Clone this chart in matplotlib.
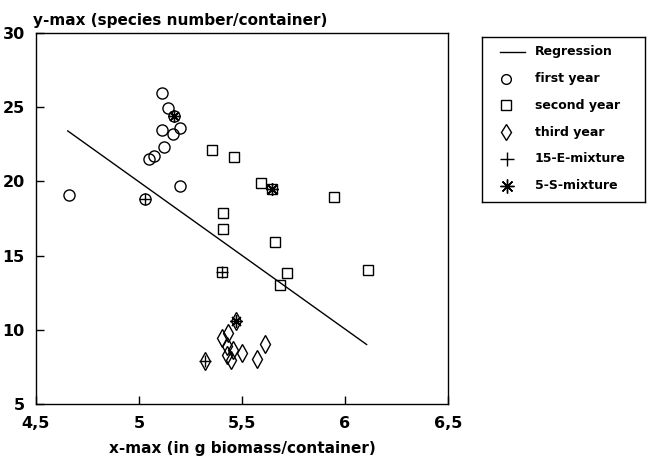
import matplotlib
matplotlib.use("Agg")
import matplotlib.pyplot as plt
import numpy as np

plt.rcParams['font.family'] = ['DejaVu Sans']

# ---- data ----
first_x = [5.110, 5.139, 5.171, 5.199, 5.113, 5.164, 5.123, 5.074, 5.050, 5.199, 4.660, 5.029]
first_y = [25.94, 24.93, 24.41, 23.63, 23.43, 23.20, 22.31, 21.68, 21.52, 19.66, 19.05, 18.83]

second_x = [5.353, 5.461, 5.591, 5.644, 5.948, 5.409, 5.409, 5.660, 5.404, 5.720, 6.113, 5.684]
second_y = [22.13, 21.64, 19.89, 19.48, 18.92, 17.87, 16.79, 15.89, 13.87, 13.83, 14.00, 12.99]

third_x = [5.434, 5.401, 5.426, 5.458, 5.499, 5.426, 5.445, 5.612, 5.571, 5.320, 5.471]
third_y = [9.79, 9.45, 8.89, 8.62, 8.45, 8.33, 7.95, 9.07, 8.00, 7.88, 10.57]

mix15_x = [5.029, 5.404, 5.320]
mix15_y = [18.83, 13.87, 7.88]

mix5_x = [5.171, 5.644, 5.471]
mix5_y = [24.41, 19.48, 10.57]

reg_intercept = 69.57
reg_slope = -9.92
reg_xrange = [4.654, 6.105]

x_ticks = [4.5, 5.0, 5.5, 6.0, 6.5]
x_ticklabels = ["4,5", "5", "5,5", "6", "6,5"]
y_ticks = [5, 10, 15, 20, 25, 30]
y_ticklabels = ["5", "10", "15", "20", "25", "30"]

legend_labels = ["Regression", "first year", "second year", "third year",
                 "15-E-mixture", "5-S-mixture"]

# ---- figure ----
W, H = 650, 458
fig = plt.figure(figsize=(W / 100, H / 100), dpi=100)
L, R, T, B = 36, 448, 33, 404
ax = fig.add_axes([L / W, 1 - B / H, (R - L) / W, (B - T) / H])

rx = np.array(reg_xrange)
ax.plot(rx, reg_intercept + reg_slope * rx, color='black', lw=1.0)

mk = dict(linestyle='none', markerfacecolor='none', markeredgecolor='black', markeredgewidth=1.0)
ax.plot(first_x, first_y, marker='o', markersize=8, **mk)
ax.plot(second_x, second_y, marker='s', markersize=7.5, **mk)
ax.plot(third_x, third_y, marker='d', markersize=9, **mk)
ax.plot(mix15_x, mix15_y, marker='+', markersize=9, linestyle='none', color='black', markeredgewidth=1.0)
ax.plot(mix5_x, mix5_y, marker=(8, 2, 0), markersize=9, linestyle='none', color='black', markeredgewidth=1.0)

ax.set_xlim(4.5, 6.5)
ax.set_ylim(5, 30)
ax.set_xticks(x_ticks)
ax.set_xticklabels(x_ticklabels)
ax.set_yticks(y_ticks)
ax.set_yticklabels(y_ticklabels)
ax.tick_params(direction='in', length=6, width=1, top=False, right=False,
               labelsize=11.5)
ax.tick_params(axis='x', pad=9)
ax.tick_params(axis='y', pad=8)
for lab in ax.get_xticklabels() + ax.get_yticklabels():
    lab.set_fontweight('bold')
for s in ax.spines.values():
    s.set_linewidth(1.0)

fig.text(33 / W, 1 - 20 / H, "y-max (species number/container)", ha='left', va='center',
         fontsize=11, fontweight='bold')
fig.text(242 / W, 1 - 449 / H, "x-max (in g biomass/container)", ha='center', va='center',
         fontsize=11, fontweight='bold')

# ---- legend box ----
LL, LR, LT, LB = 482, 645, 37, 202
lax = fig.add_axes([LL / W, 1 - LB / H, (LR - LL) / W, (LB - LT) / H])
lax.set_xlim(LL, LR)
lax.set_ylim(LB, LT)
lax.set_xticks([])
lax.set_yticks([])
for s in lax.spines.values():
    s.set_linewidth(1.0)

rows = [51.7 + i * 26.8 for i in range(len(legend_labels))]
lax.plot([500, 525], [rows[0], rows[0]], color='black', lw=1.0)
lax.plot([506], [rows[1]], marker='o', markersize=7, **mk)
lax.plot([506], [rows[2]], marker='s', markersize=7, **mk)
lax.plot([506], [rows[3]], marker='d', markersize=8, **mk)
lax.plot([507], [rows[4]], marker='+', markersize=10, linestyle='none', color='black', markeredgewidth=1.0)
lax.plot([507], [rows[5]], marker=(8, 2, 0), markersize=10, linestyle='none', color='black', markeredgewidth=1.0)
for lbl, yy in zip(legend_labels, rows):
    lax.text(535, yy, lbl, ha='left', va='center', fontsize=9, fontweight='bold')

fig.savefig("out.png", dpi=100)
